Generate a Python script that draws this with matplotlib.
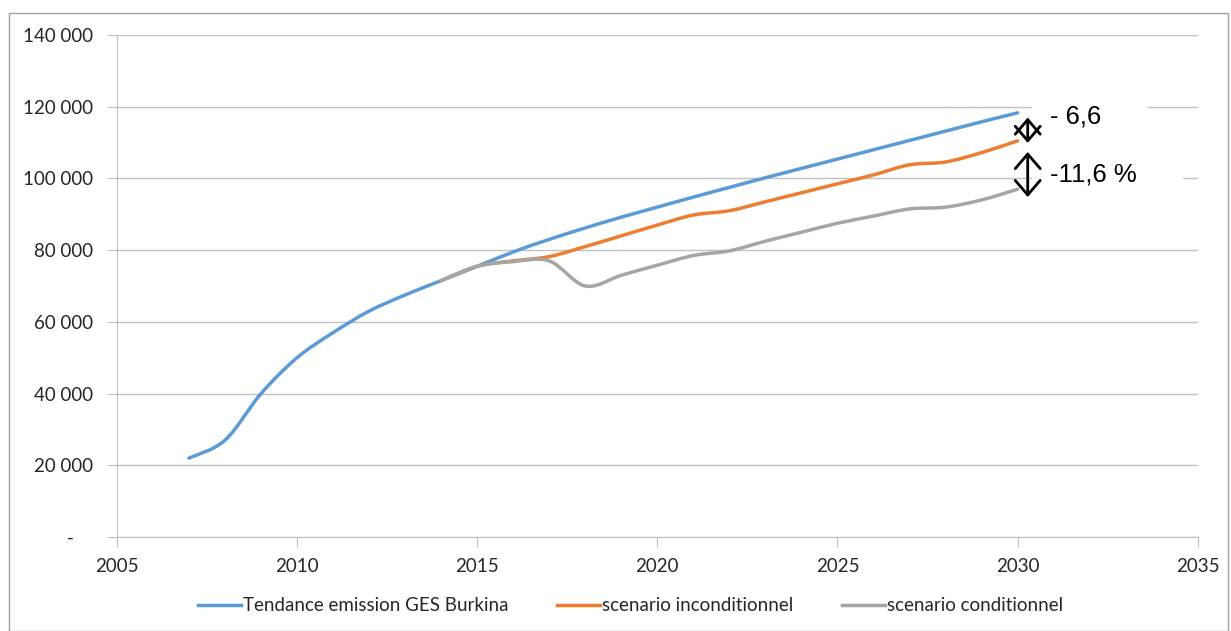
import numpy as np
import matplotlib
matplotlib.use('Agg')
import matplotlib.pyplot as plt
from matplotlib.path import Path
from matplotlib.patches import PathPatch, Rectangle
from matplotlib.lines import Line2D

plt.rcParams['font.family'] = ['Lato', 'DejaVu Sans']

# annual values
years_trend = list(range(2007, 2031))
trend = [22000, 27000, 40000, 50000, 57000, 63000, 67500, 71500, 75500, 79500,
         83000, 86200, 89200, 92000, 94800, 97500, 100200, 102800, 105400,
         108000, 110600, 113200, 115800, 118300]

years_scen = list(range(2014, 2031))
uncond = [71500, 75500, 77000, 78200, 81000, 84000, 87000, 89800, 91000, 93500,
          96000, 98500, 101000, 103800, 104600, 107200, 110500]
cond = [71500, 75500, 76800, 77000, 70000, 73000, 75800, 78500, 79800, 82500,
        85000, 87500, 89500, 91500, 92000, 94000, 97000]

series = [
    ('Tendance emission GES Burkina', years_trend, trend, '#5b9bd5'),
    ('scenario inconditionnel', years_scen, uncond, '#ed7d31'),
    ('scenario conditionnel', years_scen, cond, '#a5a5a5'),
]


def smooth_path(x, y):
    # excel style smoothed line: bezier segments through every point
    p = np.column_stack([x, y]).astype(float)
    n = len(p)
    verts = [p[0]]
    codes = [Path.MOVETO]
    for i in range(n - 1):
        p0 = p[i - 1] if i > 0 else p[i]
        p3 = p[i + 2] if i + 2 < n else p[i + 1]
        c1 = p[i] + (p[i + 1] - p0) / 6.0
        c2 = p[i + 1] - (p3 - p[i]) / 6.0
        verts += [c1, c2, p[i + 1]]
        codes += [Path.CURVE4] * 3
    return Path(verts, codes)


fig = plt.figure(figsize=(12.31, 6.31), dpi=100)
ax = fig.add_axes([0.095, 0.149, 0.878, 0.7955])

for name, xs, ys, col in series:
    ax.add_patch(PathPatch(smooth_path(xs, ys), facecolor='none', edgecolor=col,
                           lw=2.5, capstyle='round', joinstyle='round'))

ax.set_xlim(2005, 2035)
ax.set_ylim(0, 140000)
ax.set_xticks(range(2005, 2036, 5))
yt = list(range(0, 140001, 20000))
ax.set_yticks(yt)
ax.set_yticklabels(['-    ' if v == 0 else '{:,}'.format(v).replace(',', ' ') for v in yt])
ax.grid(axis='y', color='#c0c0c0', lw=1)
ax.set_axisbelow(True)
for s in ['top', 'right']:
    ax.spines[s].set_visible(False)
for s in ['left', 'bottom']:
    ax.spines[s].set_color('#c0c0c0')
ax.tick_params(colors='#c0c0c0', length=7, labelsize=13.5, labelcolor='#262626')
ax.tick_params(axis='y', pad=10)
ax.tick_params(axis='x', pad=8)

# reduction annotations at 2030
txt_font = ['Liberation Sans', 'DejaVu Sans']
ax.text(2030.9, 117200, '- 6,6    ', fontsize=18.5, family=txt_font,
        va='center', ha='left', zorder=4,
        bbox=dict(boxstyle='square,pad=0.7', fc='white', ec='none'))
ax.text(2030.9, 101000, '-11,6 %    ', fontsize=18.5, family=txt_font,
        va='center', ha='left', zorder=4,
        bbox=dict(boxstyle='square,pad=0.7', fc='white', ec='none'))
for y0, y1 in [(117000, 109900), (107400, 94800)]:
    ax.annotate('', xy=(2030.28, y0), xytext=(2030.28, y1), zorder=6,
                arrowprops=dict(arrowstyle='<->,head_length=0.35,head_width=0.3',
                                lw=2, color='black', mutation_scale=30,
                                shrinkA=0, shrinkB=0))

handles = [Line2D([0], [0], color=c, lw=2.5) for _, _, _, c in series]
fig.legend(handles, [s[0] for s in series], loc='center', bbox_to_anchor=(0.512, 0.04),
           ncol=3, frameon=False, fontsize=13.5, handlelength=2.3, handletextpad=0.1,
           columnspacing=2.6, labelcolor='#262626')

fig.patches.append(Rectangle((9 / 1231, 0), 1 - 12 / 1231, 1 - 13 / 631,
                             transform=fig.transFigure, fill=False, ec='#a0a0a0', lw=1))

fig.savefig('out.png', dpi=100)
